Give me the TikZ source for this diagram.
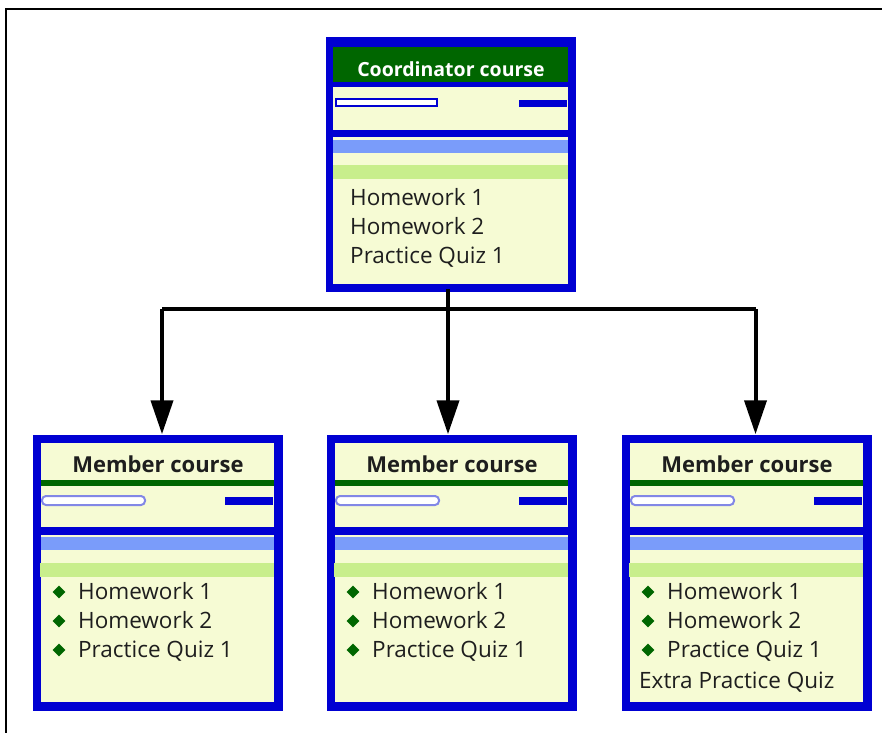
\documentclass[tikz,border=0pt]{standalone}
\usepackage{fontspec}
\setmainfont{Open Sans}
\usetikzlibrary{arrows.meta,calc,shapes.geometric}
\definecolor{bordblue}{RGB}{0,0,210}
\definecolor{hdrgreen}{RGB}{0,102,0}
\definecolor{paleyel}{RGB}{246,251,212}
\definecolor{barblue}{RGB}{122,156,250}
\definecolor{bargreen}{RGB}{200,238,140}
\definecolor{outlineblue}{RGB}{130,135,230}
\definecolor{txtgray}{RGB}{30,30,30}
\tikzset{
  coursebox/.style={draw=bordblue, fill=paleyel, inner sep=0pt},
  itemtext/.style={anchor=base west, inner sep=0pt, font=\fontsize{22.5}{22.5}\selectfont, text=txtgray},
  titletext/.style={inner sep=0pt, font=\bfseries\fontsize{22}{22}\selectfont, text=txtgray},
  bullet/.style={diamond, fill=hdrgreen, inner sep=0pt, minimum size=13pt},
  conn/.style={line width=4pt, -{Triangle[length=34pt,width=22pt]}, shorten >=3pt},
}
\newcommand\memberbox[3]{%
  \node[coursebox, line width=5.5pt, minimum width=239pt, minimum height=265pt] (#1) at (#2+122.5,572.5) {};
  \begin{scope}[shift={(#2,437)}]
    \fill[hdrgreen] (6,43) rectangle (239,49);
    \draw[outlineblue, line width=2pt, fill=white, rounded corners=4pt] (7,59) rectangle (110,68);
    \fill[bordblue] (190,60) rectangle (238,68);
    \fill[bordblue] (6,90) rectangle (239,98);
    \fill[barblue] (6,100) rectangle (239,113);
    \fill[bargreen] (5,126) rectangle (239,140);
    \node[titletext] (#1-title) at (123,27) {Member course};
    \node[bullet] (#1-b1) at (24,155) {};
    \node[bullet] (#1-b2) at (24,184) {};
    \node[bullet] (#1-b3) at (24,213) {};
    \node[itemtext] (#1-i1) at (43,162) {Homework 1};
    \node[itemtext] (#1-i2) at (43,191) {Homework 2};
    \node[itemtext] (#1-i3) at (43,220) {Practice Quiz 1};
    #3
  \end{scope}
  \draw[bordblue, line width=5.5pt] (#1.north west) rectangle (#1.south east);
}
\begin{document}
\begin{tikzpicture}[x=1pt,y=-1pt]
\useasboundingbox (0,0) rectangle (882,732);
\fill[white] (0,0) rectangle (882,732);
\draw[line width=2.5pt] (6,740) -- (6,9) -- (890,9);

% coordinator course
\node[coursebox, line width=5pt, minimum width=240pt, minimum height=245pt] (c) at (450.5,164) {};
\fill[hdrgreen] (333,46) rectangle (568,82);
\fill[bordblue] (333,82) rectangle (568,87);
\draw[bordblue, line width=1.5pt, fill=white] (336,99) rectangle (437,106);
\fill[bordblue] (519,100) rectangle (567,107);
\fill[bordblue] (333,130) rectangle (568,137);
\fill[barblue] (333,140) rectangle (568,153);
\fill[bargreen] (333,165) rectangle (568,179);
\draw[bordblue, line width=5pt] (c.north west) rectangle (c.south east);
\fill[bordblue] (328,39) rectangle (573,47);
\node[titletext, text=white, font=\bfseries\fontsize{19.5}{19.5}\selectfont] (ctitle) at (451,69) {Coordinator course};
\node[itemtext] (ci1) at (350,205) {Homework 1};
\node[itemtext] (ci2) at (350,234) {Homework 2};
\node[itemtext] (ci3) at (350,263) {Practice Quiz 1};

% member courses
\memberbox{m1}{35}{}
\memberbox{m2}{329}{}
\memberbox{m3}{624}{\node[itemtext] (m3-i4) at (15,251) {Extra Practice Quiz};}

% connectors
\coordinate (j) at (448,309);
\coordinate (cs) at (448,289);
\draw[conn] (cs) -- ([xshift=-3.5pt]m2.north);
\draw[line width=4pt] ([xshift=4.5pt]m1.north |- j) -- ([xshift=9pt]m3.north |- j);
\draw[conn] ([xshift=4.5pt]m1.north |- j) -- ([xshift=4.5pt]m1.north);
\draw[conn] ([xshift=9pt]m3.north |- j) -- ([xshift=9pt]m3.north);
\end{tikzpicture}
\end{document}
